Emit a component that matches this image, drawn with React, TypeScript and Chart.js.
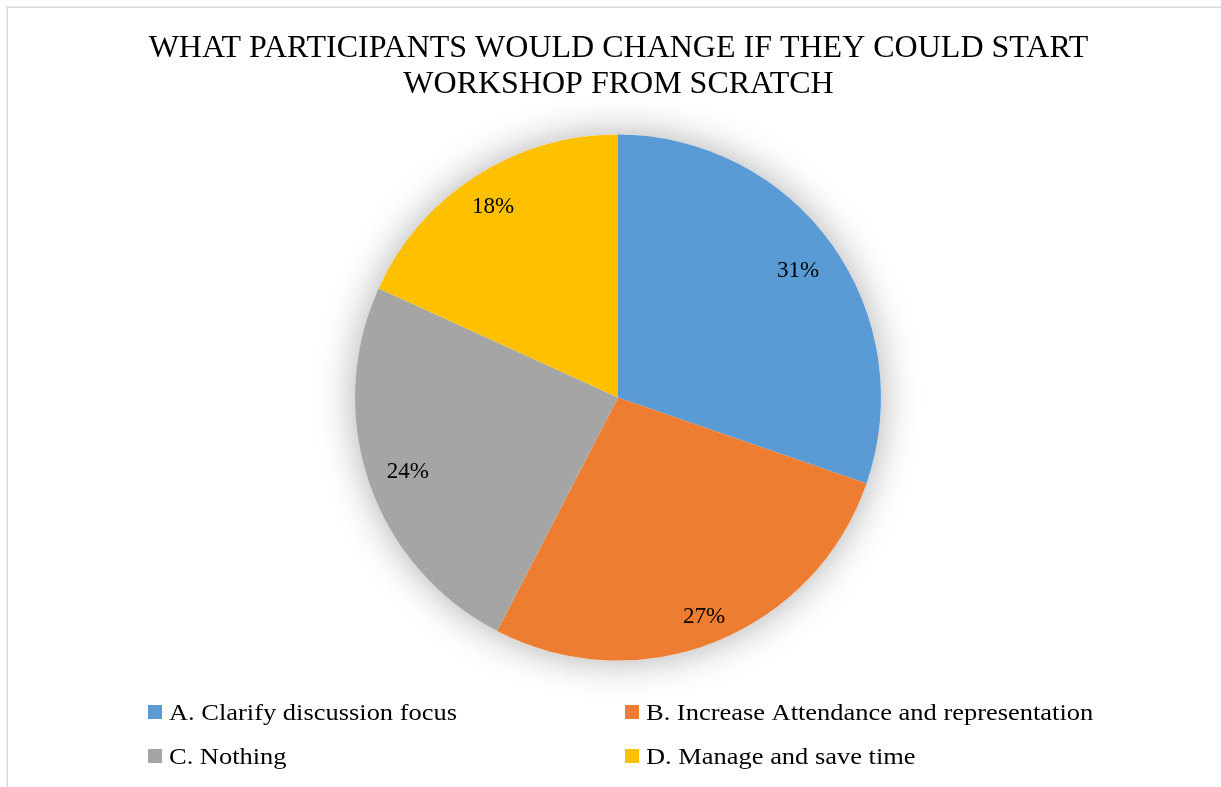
import React, { useEffect, useRef } from "react";
import { Chart, registerables } from "chart.js";

Chart.register(...registerables);

const titleLines = ["WHAT PARTICIPANTS WOULD CHANGE IF THEY COULD START", "WORKSHOP FROM SCRATCH"];
const categories = [
  "A. Clarify discussion focus",
  "B. Increase Attendance and representation",
  "C. Nothing",
  "D. Manage and save time",
];
const shares = [30.3, 27.3, 24.2, 18.2];
const percentLabels = ["31%", "27%", "24%", "18%"];
const colors = ["#5B9BD5", "#ED7D31", "#A5A5A5", "#FFC000"];

const SERIF = "'Liberation Serif', 'Times New Roman', serif";

const framePlugin = {
  id: "frame",
  beforeDraw(chart: any) {
    const ctx = chart.ctx;
    ctx.save();
    ctx.fillStyle = "#ffffff";
    ctx.fillRect(0, 0, chart.width, chart.height);
    ctx.fillStyle = "#d9d9d9";
    ctx.fillRect(6, 6.5, chart.width, 1.5);
    ctx.fillRect(6.5, 6, 1.5, chart.height);
    // title
    ctx.fillStyle = "#000000";
    ctx.font = `32px ${SERIF}`;
    ctx.textAlign = "center";
    ctx.textBaseline = "alphabetic";
    ctx.fillText(titleLines[0], 618.5, 57);
    ctx.fillText(titleLines[1], 618.5, 93);
    ctx.restore();
  },
  beforeDatasetsDraw(chart: any) {
    const arc = chart.getDatasetMeta(0).data[0];
    if (!arc) return;
    const { x, y, outerRadius } = arc.getProps(["x", "y", "outerRadius"], true);
    const ctx = chart.ctx;
    ctx.save();
    ctx.shadowColor = "rgba(0,0,0,0.32)";
    ctx.shadowBlur = 38;
    ctx.fillStyle = "#ffffff";
    ctx.beginPath();
    ctx.arc(x, y, outerRadius, 0, Math.PI * 2);
    ctx.fill();
    ctx.restore();
  },
  afterDatasetsDraw(chart: any) {
    const ctx = chart.ctx;
    const meta = chart.getDatasetMeta(0);
    ctx.save();
    ctx.fillStyle = "#000000";
    ctx.font = `23px ${SERIF}`;
    ctx.textAlign = "center";
    ctx.textBaseline = "middle";
    meta.data.forEach((el: any, i: number) => {
      const { x, y, startAngle, endAngle, outerRadius } = el.getProps(
        ["x", "y", "startAngle", "endAngle", "outerRadius"],
        true
      );
      const mid = (startAngle + endAngle) / 2;
      const w = ctx.measureText(percentLabels[i]).width;
      const extent = Math.abs(Math.cos(mid)) * w / 2 + Math.abs(Math.sin(mid)) * 9;
      const r = outerRadius + 4 - 2 * extent;
      ctx.fillText(percentLabels[i], x + Math.cos(mid) * r - 1, y + Math.sin(mid) * r + 2);
    });
    // legend
    const colX = [148, 625];
    const rowY = [705, 749];
    ctx.font = `23px ${SERIF}`;
    ctx.textAlign = "left";
    ctx.textBaseline = "alphabetic";
    categories.forEach((label, i) => {
      const cx = colX[i % 2];
      const cy = rowY[Math.floor(i / 2)];
      ctx.fillStyle = colors[i];
      ctx.fillRect(cx, cy, 14, 14);
      ctx.fillStyle = "#000000";
      ctx.save();
      ctx.translate(cx + 21, cy + 15);
      ctx.scale(1.15, 1);
      ctx.fillText(label, 0, 0);
      ctx.restore();
    });
    ctx.restore();
  },
};

export default function App() {
  const ref = useRef<HTMLCanvasElement | null>(null);
  useEffect(() => {
    if (!ref.current) return;
    const chart = new Chart(ref.current, {
      type: "pie",
      data: {
        labels: categories,
        datasets: [
          {
            data: shares,
            backgroundColor: colors,
            borderWidth: 0,
            hoverBorderWidth: 0,
            hoverOffset: 0,
          },
        ],
      },
      options: {
        responsive: false,
        animation: false,
        devicePixelRatio: 1,
        layout: { padding: { left: 355, right: 340, top: 134.5, bottom: 126.5 } },
        plugins: {
          legend: { display: false },
          title: { display: false },
          tooltip: { enabled: false },
        },
        events: [],
      },
      plugins: [framePlugin],
    });
    return () => chart.destroy();
  }, []);
  return (
    <div style={{ position: "fixed", left: 0, top: 0, width: 1221, height: 787, background: "#fff" }}>
      <canvas ref={ref} width={1221} height={787} style={{ display: "block", width: 1221, height: 787 }} />
    </div>
  );
}
